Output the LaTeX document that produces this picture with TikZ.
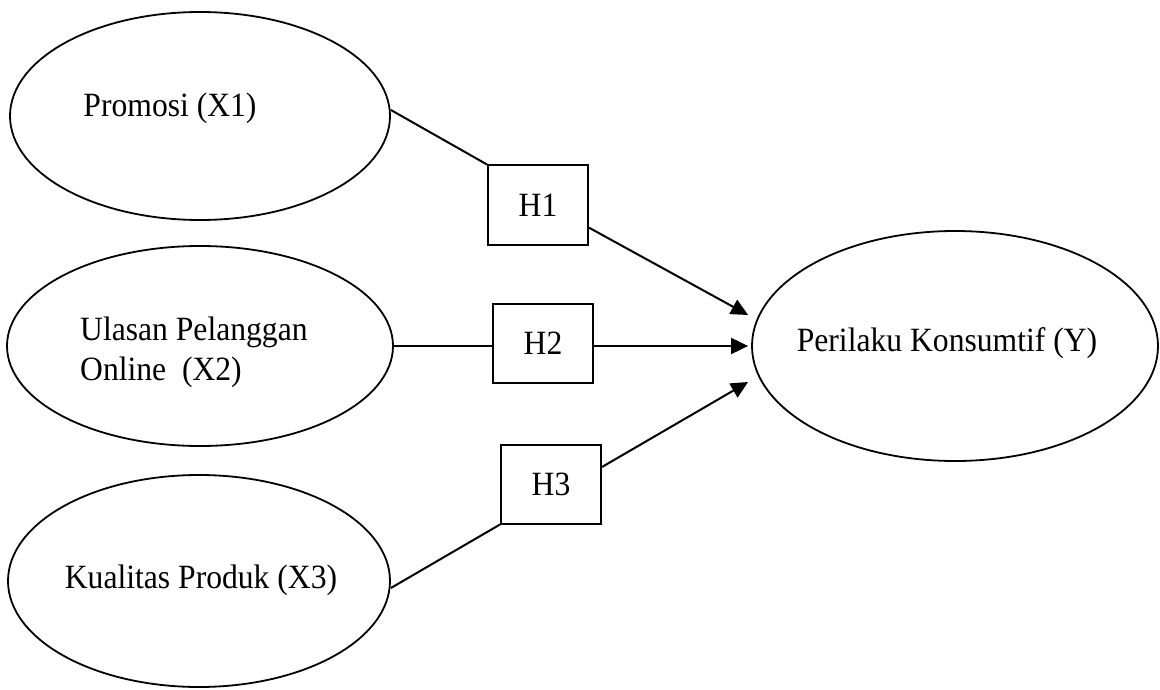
\documentclass[tikz,border=0pt]{standalone}
\usepackage{fontspec}
\setmainfont[FakeStretch=0.93]{Liberation Serif}
\usetikzlibrary{shapes.geometric,arrows.meta,calc}
\begin{document}
\begin{tikzpicture}[x=1pt,y=-1pt,
  font=\fontsize{34}{40}\selectfont,
  var/.style={draw,ellipse,inner sep=0pt,line width=1.8pt},
  lbl/.style={inner sep=0pt,align=left},
  hyp/.style={draw,rectangle,minimum width=100pt,minimum height=79pt,inner sep=0pt,line width=2pt},
  conn/.style={line width=2pt},
  arr/.style={conn,-{Triangle[length=17pt,width=16pt]}}]
\useasboundingbox (0,0) rectangle (1160,690);
% ellipses
\node[var,minimum width=380pt,minimum height=208pt] (x1) at (200,116) {};
\node[var,minimum width=386pt,minimum height=200pt] (x2) at (200,346) {};
\node[var,minimum width=382pt,minimum height=212pt] (x3) at (199,581) {};
\node[var,minimum width=406pt,minimum height=230pt] (y) at (955,346) {};
% texts
\node[lbl] (x1t) at (170,108) {Promosi (X1)};
\node[lbl,anchor=west] (x2t) at (80,352) {Ulasan Pelanggan\\Online\ \ (X2)};
\node[lbl] (x3t) at (201,580) {Kualitas Produk (X3)};
\node[lbl] (yt) at (947,343) {Perilaku Konsumtif (Y)};
% hypothesis boxes
\node[hyp] (h1) at (538,205) {H1};
\node[hyp] (h2) at (543,343) {H2};
\node[hyp] (h3) at (551,484) {H3};
% targets
\coordinate (t1) at ([xshift=-3pt,yshift=31pt]y.west);
\coordinate (t2) at ([xshift=-3pt]y.west);
\coordinate (t3) at ([xshift=-3pt,yshift=-36pt]y.west);
% connectors
\draw[conn] ([yshift=6pt]x1.east) -- (h1.north west);
\draw[arr] ($(h1.south east)!0.22!(h1.north east)$) -- (t1);
\draw[conn] (x2.east) -- (x2.east -| h2.west);
\draw[arr] (x2.east -| h2.east) -- (t2);
\draw[conn] ([yshift=-7pt]x3.east) -- (h3.south west);
\draw[arr] ($(h3.south east)!0.71!(h3.north east)$) -- (t3);
\end{tikzpicture}
\end{document}
